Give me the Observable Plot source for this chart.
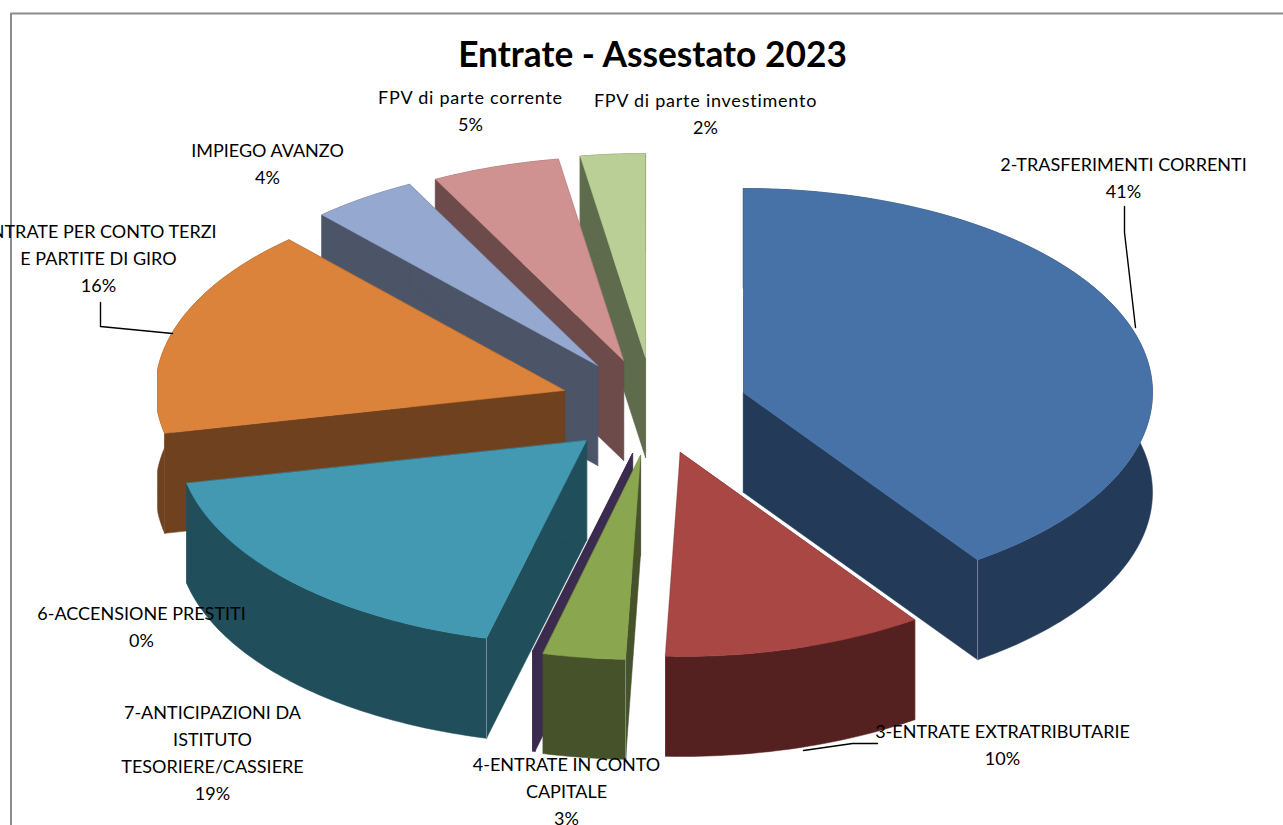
<!DOCTYPE html>
<html><head><meta charset="utf-8">
<script src="https://cdn.jsdelivr.net/npm/d3@7"></script>
<script src="https://cdn.jsdelivr.net/npm/@observablehq/plot@0.6"></script>
<style>html,body{margin:0;padding:0;background:#fff;overflow:hidden}svg{display:block}.wide text{letter-spacing:.76px}</style>
</head><body><div id="chart"></div>
<script>
const chartTitle = "Entrate - Assestato 2023";
const categories = ["2-TRASFERIMENTI CORRENTI","3-ENTRATE EXTRATRIBUTARIE","4-ENTRATE IN CONTO\nCAPITALE","6-ACCENSIONE PRESTITI","7-ANTICIPAZIONI DA\nISTITUTO\nTESORIERE/CASSIERE","ENTRATE PER CONTO TERZI\nE PARTITE DI GIRO","IMPIEGO AVANZO","FPV di parte corrente","FPV di parte investimento"];
const percentLabels = ["41%","10%","3%","0%","19%","16%","4%","5%","2%"];
// shares as drawn in the picture (percent of the circle, clockwise from 12 o'clock)
const shares = [40.3,10.28,3.25,0.1,17.7,16.6,4.17,5.05,2.55];
const topColors  = ["#4672a8","#a84744","#8aa64f","#3b2b4e","#4299b1","#db823b","#95a9d0","#d09291","#b9cf95"];
const sideColors = ["#243a59","#552120","#46522a","#3b2b4e","#214e5b","#6f411f","#4b5567","#6d4b4a","#5e6b4c"];

// layout, apart from the data
const rx = 409, ry = 204, depth = 100, clipL = 157, clipR = 1152;
const apex = [[743,392],[680,452],[640,455],[632,453],[586,440],[564,390],[597,365],[623,360],[645,357]];
const labelAt = [[1123,165],[1002,732],[566,765],[141,614],[212,713],[98,232],[267,151],[470,98],[705,101]];
const paintOrder = [8,7,6,5,0,4,3,2,1];
const lineGap = 27;
const leaders = [[[1124,206],[1124,232],[1135,327]],[[100,302],[100,326],[172,333]],[[803,750],[852,743],[877,743]]];
const frame = [[1283,13],[10.5,13],[10.5,825]];
const litCorner = {0:"end",2:"start",4:"start"};

const cum = d3.cumsum(shares);
const total = cum[cum.length-1];
const pieces = [];
const ring = pts => ({type:"Polygon",coordinates:[[...pts,pts[0]]]});
paintOrder.forEach(i => {
  const t0 = (i?cum[i-1]:0)/total*2*Math.PI, t1 = cum[i]/total*2*Math.PI;
  const [ax,ay] = apex[i];
  const n = Math.max(2,Math.ceil((t1-t0)*180/Math.PI));
  const arc = d3.range(n+1).map(k=>{
    const t = t0+(t1-t0)*k/n;
    return [Math.min(clipR,Math.max(clipL,ax+rx*Math.sin(t))), ay-ry*Math.cos(t)];
  });
  const down = p=>[p[0],p[1]+depth];
  const a=arc[0], b=arc[n], c=[ax,ay];
  pieces.push({g:ring([c,a,down(a),down(c)]),fill:sideColors[i]});
  pieces.push({g:ring([c,b,down(b),down(c)]),fill:sideColors[i]});
  pieces.push({g:ring([...arc,...arc.map(down).reverse()]),fill:sideColors[i]});
  if (litCorner[i]) { const p = litCorner[i]==="end"?b:a;
    pieces.push({g:{type:"LineString",coordinates:[p,down(p)]},fill:"none",stroke:"#8a95a5",sw:0.8}); }
  pieces.push({g:ring([c,...arc]),fill:topColors[i]});
});

const labels = [];
categories.forEach((c,i)=>{
  const lines=[...c.split("\n"),percentLabels[i]];
  lines.forEach((t,k)=>labels.push({t,x:labelAt[i][0],y:labelAt[i][1]+k*lineGap}));
});
const isLower = d=>/[a-z]/.test(d.t);

const font='Lato, "Noto Sans", sans-serif';
const plot = Plot.plot({
  width:1283,height:825,margin:0,
  projection:d3.geoIdentity(),
  style:{background:"#fff",fontFamily:font},
  marks:[
    Plot.geo([{type:"LineString",coordinates:frame}],{stroke:"#8c8c8c",strokeWidth:2,fill:"none"}),
    Plot.geo(pieces,{geometry:d=>d.g,fill:d=>d.fill,stroke:d=>d.stroke||d.fill,strokeWidth:d=>d.sw||0.5}),
    Plot.geo(leaders.map(c=>({type:"LineString",coordinates:c})),{stroke:"#000",strokeWidth:1.4,fill:"none"}),
    Plot.text(labels.filter(d=>!isLower(d)),{x:"x",y:"y",text:"t",fontSize:18,fill:"#000",fontFamily:font}),
    Plot.text(labels.filter(isLower),{x:"x",y:"y",text:"t",fontSize:18,fill:"#000",fontFamily:font,className:"wide"}),
    Plot.text([chartTitle],{x:()=>652,y:()=>55,text:d=>d,fontSize:35.3,fontWeight:700,fill:"#000",fontFamily:font})
  ]
});
document.getElementById("chart").append(plot);
</script></body></html>
